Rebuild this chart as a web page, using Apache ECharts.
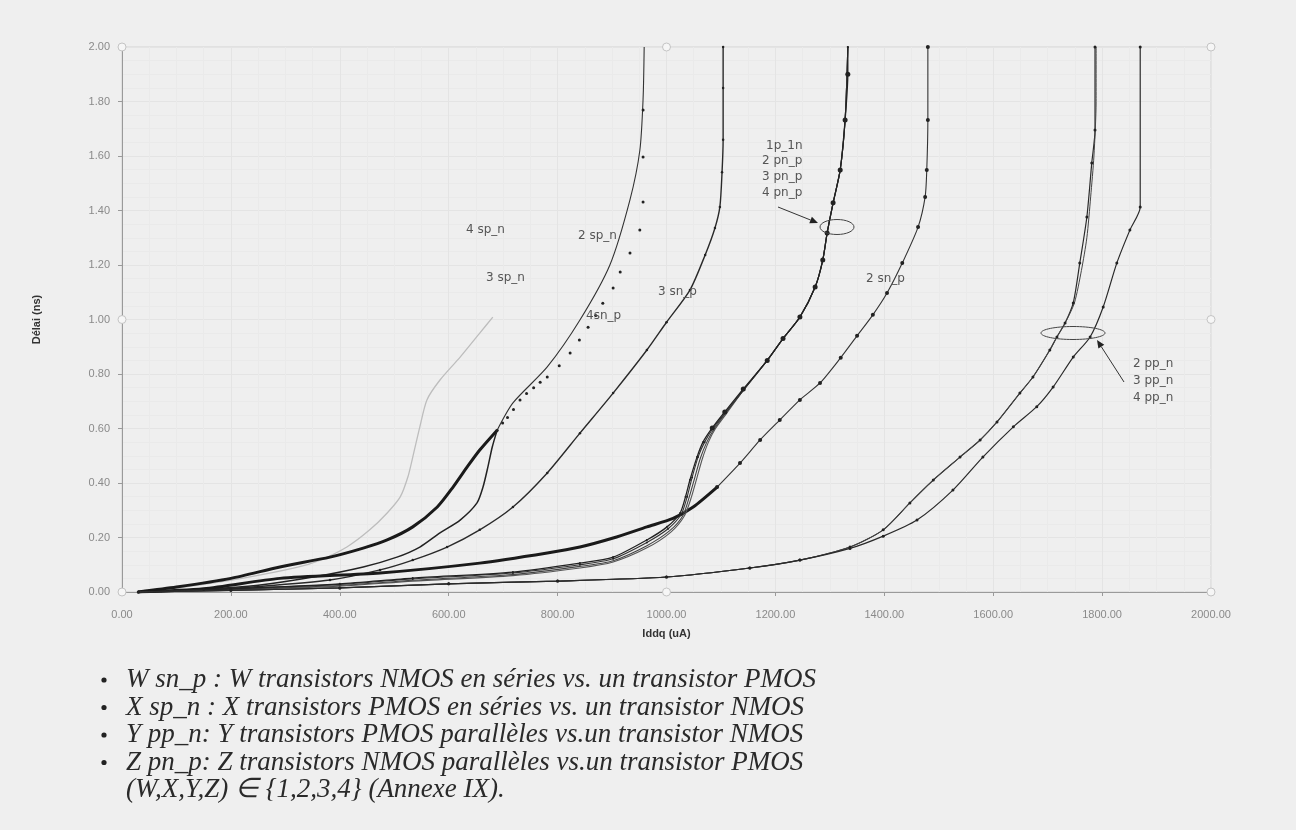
<!DOCTYPE html>
<html>
<head>
<meta charset="utf-8">
<script src="https://cdn.jsdelivr.net/npm/echarts@6/dist/echarts.min.js"></script>
<style>
  html, body { margin: 0; padding: 0; background: #efefef; }
  #chart { width: 1296px; height: 830px; }
</style>
</head>
<body>
<div id="chart"></div>
<script>
// Delay (ns) versus quiescent current IDDQ (uA) for series/parallel transistor stacks.
// Each curve is a list of [Iddq, delay] pairs.
const sp3n = [[30,0],[120,0.02],[220,0.05],[321,0.09],[364,0.117],[413,0.165],[455,0.228],[487,0.29],[511,0.349],[525,0.422],[534,0.495],[547,0.606],[560,0.705],[584,0.778],[621,0.862],[657,0.95],[681,1.009]];
const sp2n = [[30,0],[100,0.018],[200,0.05],[290,0.092],[382,0.128],[443,0.161],[487,0.191],[534,0.239],[579,0.312],[608,0.385],[634,0.459],[657,0.521],[689,0.594],[718,0.694],[781,0.826],[841,0.998],[896,1.2],[933,1.44],[951,1.62],[957,1.81],[959,2.0]];
const sn4p = [[30,0],[150,0.01],[250,0.025],[351,0.055],[443,0.092],[505,0.128],[547,0.165],[584,0.217],[621,0.264],[652,0.327],[663,0.385],[672,0.459],[680,0.532],[689,0.594],[699,0.62],[708,0.64],[719,0.67],[731,0.705],[743,0.728],[756,0.75],[768,0.77],[781,0.789],[803,0.83],[823,0.877],[840,0.925],[856,0.972],[870,1.015],[883,1.06],[902,1.116],[915,1.174],[933,1.244],[951,1.328],[957,1.431],[957,1.596],[957,1.769]];
const sn3p = [[30,0],[150,0.008],[250,0.02],[382,0.044],[474,0.081],[534,0.117],[597,0.165],[657,0.228],[718,0.312],[781,0.437],[841,0.583],[902,0.73],[964,0.888],[1000,0.99],[1043,1.108],[1071,1.237],[1089,1.336],[1098,1.413],[1102,1.54],[1104,1.66],[1104,1.85],[1104,2.0]];
const sn2p = [[30,0],[150,0.012],[290,0.05],[474,0.07],[657,0.106],[781,0.143],[841,0.165],[902,0.198],[964,0.239],[1012,0.27],[1049,0.312],[1093,0.385],[1135,0.473],[1172,0.558],[1208,0.631],[1245,0.705],[1282,0.767],[1320,0.86],[1350,0.94],[1379,1.017],[1405,1.097],[1433,1.207],[1462,1.339],[1475,1.45],[1478,1.549],[1480,1.732],[1480,2.0]];
const pn1 = [[30,0],[200,0.012],[400,0.03],[534,0.051],[718,0.073],[841,0.106],[902,0.128],[964,0.191],[1001,0.239],[1025,0.29],[1035,0.35],[1043,0.411],[1056,0.495],[1067,0.55],[1084,0.602],[1107,0.661],[1141,0.745],[1185,0.85],[1214,0.93],[1245,1.009],[1273,1.119],[1287,1.218],[1295,1.317],[1306,1.428],[1319,1.549],[1328,1.732],[1333,1.9],[1333,2.0]];
const pn2 = [[30,0],[200,0.011],[400,0.028],[534,0.048],[718,0.07],[841,0.1],[902,0.122],[964,0.182],[1003,0.232],[1027,0.285],[1038,0.35],[1047,0.42],[1058,0.495],[1070,0.55],[1086,0.602],[1109,0.66],[1141,0.74],[1185,0.85],[1214,0.93],[1245,1.009],[1273,1.119],[1287,1.218],[1295,1.317],[1306,1.428],[1319,1.549],[1328,1.732],[1333,2.0]];
const pn3 = [[30,0],[200,0.009],[400,0.024],[534,0.043],[718,0.064],[841,0.094],[902,0.115],[964,0.17],[1006,0.225],[1030,0.28],[1042,0.35],[1052,0.42],[1062,0.49],[1074,0.55],[1088,0.6],[1110,0.66],[1141,0.74],[1185,0.85],[1214,0.93],[1245,1.009],[1273,1.119],[1287,1.218],[1295,1.317],[1306,1.428],[1319,1.549],[1328,1.732],[1333,2.0]];
const pn4 = [[30,0],[200,0.008],[400,0.021],[534,0.04],[718,0.06],[841,0.088],[902,0.11],[964,0.162],[1008,0.22],[1033,0.28],[1046,0.35],[1056,0.42],[1066,0.49],[1077,0.55],[1090,0.6],[1112,0.66],[1141,0.74],[1185,0.85],[1214,0.93],[1245,1.009],[1273,1.119],[1287,1.218],[1295,1.317],[1306,1.428],[1319,1.549],[1328,1.732],[1333,2.0]];
const pp2n = [[30,0],[200,0.006],[400,0.015],[600,0.03],[800,0.04],[1000,0.055],[1153,0.088],[1245,0.117],[1337,0.165],[1398,0.228],[1447,0.327],[1490,0.411],[1539,0.495],[1576,0.558],[1607,0.624],[1649,0.73],[1673,0.789],[1704,0.888],[1717,0.936],[1732,0.987],[1747,1.061],[1759,1.207],[1772,1.376],[1781,1.574],[1787,1.695],[1787,2.0]];
const pp3n = [[30,0],[200,0.006],[400,0.015],[600,0.03],[800,0.04],[1000,0.055],[1153,0.088],[1245,0.117],[1337,0.165],[1398,0.228],[1447,0.327],[1490,0.411],[1539,0.495],[1576,0.558],[1607,0.624],[1649,0.73],[1673,0.789],[1704,0.888],[1717,0.936],[1732,0.987],[1749,1.06],[1762,1.18],[1772,1.3],[1779,1.45],[1785,1.6],[1789,1.8],[1789,2.0]];
const pp4n = [[30,0],[200,0.006],[400,0.015],[600,0.03],[800,0.04],[1000,0.055],[1153,0.088],[1245,0.117],[1337,0.16],[1398,0.205],[1460,0.264],[1526,0.374],[1581,0.495],[1637,0.606],[1680,0.68],[1710,0.752],[1747,0.862],[1778,0.936],[1802,1.046],[1827,1.207],[1851,1.328],[1870,1.413],[1870,2.0]];

// Axis ticks
const xTicks = { min: 0, max: 2000, interval: 200 };
const yTicks = { min: 0, max: 2, interval: 0.2 };

// Curve tags written on the plot
const curveTags = [
  { text: '4 sp_n', x: 466, y: 230 },
  { text: '2 sp_n', x: 578, y: 236 },
  { text: '3 sp_n', x: 486, y: 278 },
  { text: '4sn_p', x: 586, y: 316 },
  { text: '3 sn_p', x: 658, y: 292 },
  { text: '1p_1n', x: 766, y: 146 },
  { text: '2 pn_p', x: 762, y: 161 },
  { text: '3 pn_p', x: 762, y: 177 },
  { text: '4 pn_p', x: 762, y: 193 },
  { text: '2 sn_p', x: 866, y: 279 },
  { text: '2 pp_n', x: 1133, y: 364 },
  { text: '3 pp_n', x: 1133, y: 381 },
  { text: '4 pp_n', x: 1133, y: 398 }
];

// Notes under the chart
const notes = [
  'W sn_p : W transistors NMOS en séries vs. un transistor PMOS',
  'X sp_n : X transistors PMOS en séries vs. un transistor NMOS',
  'Y pp_n: Y transistors PMOS parallèles vs.un transistor NMOS',
  'Z pn_p: Z transistors NMOS parallèles vs.un transistor PMOS',
  '(W,X,Y,Z) \u2208 {1,2,3,4} (Annexe IX).'
];

// split a curve at a delay level so each part can carry its own stroke
function upTo(arr, y) { return arr.filter(p => p[1] <= y); }
function from(arr, y) {
  let i = 0;
  arr.forEach((p, k) => { if (p[1] <= y) i = k; });
  return arr.slice(i);
}

function lineSeries(name, data, width, color, symbolSize, extra) {
  return Object.assign({
    name, type: 'line', data,
    smooth: 0.25,
    showSymbol: true,
    symbol: 'circle',
    symbolSize: symbolSize,
    lineStyle: { width, color },
    itemStyle: { color: '#222', borderWidth: 0 },
    emphasis: { disabled: true },
    z: 3
  }, extra || {});
}

const chart = echarts.init(document.getElementById('chart'), null, { renderer: 'canvas' });

const bigDot = v => (v[1] >= 0.6 && v[1] < 1.95) ? 5 : 2;

const series = [
  lineSeries('3 sp_n', sp3n, 1.3, '#bdbdbd', 0),
  lineSeries('2 sp_n', upTo(sp2n, 0.6), 3, '#1a1a1a', 0),
  lineSeries('2 sp_n', from(sp2n, 0.6), 1.1, '#333', 0),
  lineSeries('4 sn_p', upTo(sn4p, 0.6), 1.5, '#222', 0),
  lineSeries('4 sn_p', from(sn4p, 0.6), 0, '#222', 3, { lineStyle: { width: 0, opacity: 0 } }),
  lineSeries('3 sn_p', sn3p, 1.4, '#2a2a2a', 2.5),
  lineSeries('2 sn_p', upTo(sn2p, 0.39), 3, '#1a1a1a', 0),
  lineSeries('2 sn_p', from(sn2p, 0.39), 1.1, '#333', 4),
  lineSeries('4 pn_p', pn4, 1.1, '#555', 0),
  lineSeries('3 pn_p', pn3, 1.1, '#444', 0),
  lineSeries('2 pn_p', pn2, 1.1, '#333', 2),
  lineSeries('1p_1n', pn1, 1.3, '#222', bigDot),
  lineSeries('2 pp_n', pp2n, 1.2, '#2a2a2a', 3),
  lineSeries('3 pp_n', pp3n, 1.0, '#444', 0),
  lineSeries('4 pp_n', pp4n, 1.2, '#2a2a2a', 3)
];

const labelFont = { fontFamily: 'Liberation Sans', fontSize: 11, color: '#8a8a8a' };

chart.setOption({
  animation: false,
  backgroundColor: '#efefef',
  grid: { left: 122, right: 85, top: 47, bottom: 238, show: true, borderColor: '#d2d2d2', borderWidth: 1, backgroundColor: 'transparent' },
  xAxis: {
    type: 'value', min: xTicks.min, max: xTicks.max, interval: xTicks.interval,
    name: 'Iddq (uA)', nameLocation: 'middle', nameGap: 36,
    nameTextStyle: { fontFamily: 'Liberation Sans', fontSize: 11, fontWeight: 'bold', color: '#333' },
    axisLine: { show: true, onZero: false, lineStyle: { color: '#9a9a9a', width: 1 } },
    axisTick: { show: true, inside: false, length: 4, lineStyle: { color: '#9a9a9a' } },
    axisLabel: Object.assign({ margin: 17, formatter: v => v.toFixed(2) }, labelFont),
    splitLine: { show: true, lineStyle: { color: '#e4e4e4', width: 1 } },
    minorTick: { show: false, splitNumber: 4 },
    minorSplitLine: { show: true, lineStyle: { color: '#eaeaea', width: 1 } }
  },
  yAxis: {
    type: 'value', min: yTicks.min, max: yTicks.max, interval: yTicks.interval,
    name: 'Délai (ns)', nameLocation: 'middle', nameGap: 80, nameRotate: 90,
    nameTextStyle: { fontFamily: 'Liberation Sans', fontSize: 11, fontWeight: 'bold', color: '#333' },
    axisLine: { show: true, onZero: false, lineStyle: { color: '#9a9a9a', width: 1 } },
    axisTick: { show: true, inside: false, length: 4, lineStyle: { color: '#9a9a9a' } },
    axisLabel: Object.assign({ margin: 12, formatter: v => v.toFixed(2) }, labelFont),
    splitLine: { show: true, lineStyle: { color: '#e4e4e4', width: 1 } },
    minorSplitLine: { show: true, lineStyle: { color: '#eaeaea', width: 1 } },
    minorTick: { show: false, splitNumber: 4 }
  },
  series
});

// Annotations: curve tags, grouping ellipses with arrows, selection handles, notes
function arrow(x1, y1, x2, y2) {
  const dx = x2 - x1, dy = y2 - y1, len = Math.hypot(dx, dy);
  const ux = dx / len, uy = dy / len, bx = x2 - 8 * ux, by = y2 - 8 * uy;
  const px = -uy * 3.5, py = ux * 3.5;
  return [
    { type: 'line', shape: { x1, y1, x2: bx, y2: by }, style: { stroke: '#333', lineWidth: 1 }, z: 10 },
    { type: 'polygon', shape: { points: [[x2, y2], [bx + px, by + py], [bx - px, by - py]] }, style: { fill: '#222' }, z: 10 }
  ];
}

const gridRect = chart.getModel().getComponent('grid').coordinateSystem.getRect();
const handles = [];
[[0, 0], [0.5, 0], [1, 0], [0, 0.5], [1, 0.5], [0, 1], [0.5, 1], [1, 1]].forEach(([fx, fy]) => {
  handles.push({
    type: 'circle',
    shape: { cx: gridRect.x + fx * gridRect.width, cy: gridRect.y + fy * gridRect.height, r: 4 },
    style: { stroke: '#c4c4c4', fill: '#f6f6f6', lineWidth: 1 }, z: 9
  });
});

const graphics = [];
curveTags.forEach(t => graphics.push({
  type: 'text', x: t.x, y: t.y,
  style: { text: t.text, fill: '#555', font: '12px "DejaVu Sans"', textVerticalAlign: 'middle' }, z: 11
}));
graphics.push({ type: 'ellipse', shape: { cx: 837, cy: 227, rx: 17, ry: 7.5 }, style: { stroke: '#444', fill: 'none', lineWidth: 1 }, z: 10 });
graphics.push(...arrow(778, 207, 818, 223));
graphics.push({ type: 'ellipse', shape: { cx: 1073, cy: 333, rx: 32, ry: 6.5 }, style: { stroke: '#444', fill: 'none', lineWidth: 1 }, z: 10 });
graphics.push(...arrow(1124, 382, 1097, 340));
graphics.push(...handles);

notes.forEach((n, i) => {
  const y = 680 + i * 27.5;
  if (i < 4) {
    graphics.push({ type: 'circle', shape: { cx: 104, cy: y, r: 2.6 }, style: { fill: '#222' }, z: 10 });
  }
  graphics.push({
    type: 'text', x: 126, y: y,
    style: { text: n, fill: '#2a2a2a', font: 'italic 27px "Liberation Serif"', textVerticalAlign: 'middle' }, z: 10
  });
});

chart.setOption({ graphic: graphics });
</script>
</body>
</html>
